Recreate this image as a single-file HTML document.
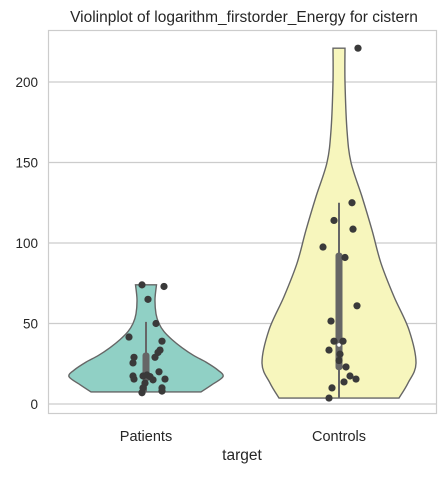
<!DOCTYPE html>
<html><head><meta charset="utf-8">
<style>
html,body{margin:0;padding:0;background:#fff;}
svg text{font-family:"Liberation Sans",Arial,sans-serif;fill:#262626;}
</style></head>
<body>
<svg id="chart" width="446" height="473" viewBox="0 0 446 473" xmlns="http://www.w3.org/2000/svg">
<text x="244" y="22" font-size="15.5" text-anchor="middle">Violinplot of logarithm_firstorder_Energy for cistern</text>
<g id="grid"></g>
<g id="violins"></g>
<g id="points"></g>
<rect x="48.5" y="30.5" width="388" height="383" fill="none" stroke="#cccccc" stroke-width="1.2"/>
<g id="yticks"></g>
<g id="xticks"></g>
<text x="242" y="460" font-size="15.5" text-anchor="middle">target</text>
</svg>
<script>
const categories = ["Patients","Controls"];
const yTicks = [0,50,100,150,200];
const patientsProfileV = [74,65,56,50,45,40,35,30,26,21,17,12,7.5];
const patientsProfileW = [10.5,9,10,13,18,26,36,48,60,72,77,66,55];
const controlsProfileV = [221,200,170,150,128.8,108,87.4,66.7,46,25.3,13,3.7];
const controlsProfileW = [6,6,8,12,23,33,42,55,70,77,69,60];
const patientsBox = [7.5,14,18,32,51];
const controlsBox = [3.7,21,36.7,94,125];
const patientsVals = [74,73,65,50,41.6,39,33.5,32,29,29,25.5,17.4,15.5,17.4,18,17,20,15.5,15,13,10,7,10,8];
const patientsJit  = [-4,18,2,10,-17,16,14,12,-12,9,-13,-13,-12,-3,1,4,13,19,7,-1,-3,-4,16,16];
const controlsVals = [221,125,114,108.6,97.5,91,61,51.5,39,39,33.5,31,27,23,17.4,15.5,13.7,10,3.7];
const controlsJit  = [19,13,-5,14,-16,6,18,-8,-5,4,-10,1,0,7,11,17,5,-7,-10];

const X0=48.5, X1=436.5;
const yScale = v => 404 - v*1.61;
const xScale = i => [146,339][i];
const NS="http://www.w3.org/2000/svg";
function mk(tag, attrs, parent){const e=document.createElementNS(NS,tag);for(const k in attrs)e.setAttribute(k,attrs[k]);parent.appendChild(e);return e;}
const grid=document.getElementById('grid'), yt=document.getElementById('yticks'), xt=document.getElementById('xticks');
yTicks.forEach(t=>{
  const l=mk('line',{x1:X0,x2:X1,y1:yScale(t),y2:yScale(t),stroke:'#cccccc','stroke-width':1.2},grid);
  
  
  const tx=mk('text',{x:38,y:yScale(t)+5,'font-size':13.5,'text-anchor':'end'},yt);
  tx.textContent=t;
  
  
});
categories.forEach((c,i)=>{
  const tx=mk('text',{x:xScale(i),y:441,'font-size':14.5,'text-anchor':'middle'},xt);
  tx.textContent=c;
  
  
});
function smoothPath(pts){
  let d='M'+pts[0][0]+','+pts[0][1];
  for(let i=0;i<pts.length-1;i++){
    const p0=pts[Math.max(0,i-1)],p1=pts[i],p2=pts[i+1],p3=pts[Math.min(pts.length-1,i+2)];
    const c1=[p1[0]+(p2[0]-p0[0])/6,p1[1]+(p2[1]-p0[1])/6];
    const c2=[p2[0]-(p3[0]-p1[0])/6,p2[1]-(p3[1]-p1[1])/6];
    d+=` C${c1[0]},${c1[1]} ${c2[0]},${c2[1]} ${p2[0]},${p2[1]}`;
  }
  return d;
}
const vg=document.getElementById('violins'), pg=document.getElementById('points');
const profiles=[[patientsProfileV,patientsProfileW,'#90d0c5',patientsBox,patientsVals,patientsJit],
                [controlsProfileV,controlsProfileW,'#f7f6bd',controlsBox,controlsVals,controlsJit]];
profiles.forEach((p,i)=>{
  const [V,W,col,box,vals,jit]=p; const cx=xScale(i);
  const right=V.map((v,k)=>[cx+W[k],yScale(v)]);
  const left=V.map((v,k)=>[cx-W[k],yScale(v)]).reverse();
  let d=smoothPath(right);
  d+=' L'+left[0][0]+','+left[0][1]+smoothPath(left).replace(/^M[^C]*/,' ')+' Z';
  const path=mk('path',{d:d,fill:col,stroke:'#666666','stroke-width':1.4},vg);
  
  
  const wh=mk('line',{x1:cx,x2:cx,y1:yScale(box[0]),y2:yScale(box[4]),stroke:'#666666','stroke-width':2},vg);
  
  
  const bx=mk('rect',{x:cx-3.5,y:yScale(box[3]),width:7,height:yScale(box[1])-yScale(box[3]),rx:3,fill:'#666666'},vg);
  
  
  const md=mk('circle',{cx:cx,cy:yScale(box[2]),r:1.8,fill:'#ffffff'},vg);
  
  
  vals.forEach((v,k)=>{
    const c=mk('circle',{cx:cx+jit[k],cy:yScale(v),r:3.6,fill:'#3a3a3a'},pg);
    
    
  });
});
</script>
</body></html>
